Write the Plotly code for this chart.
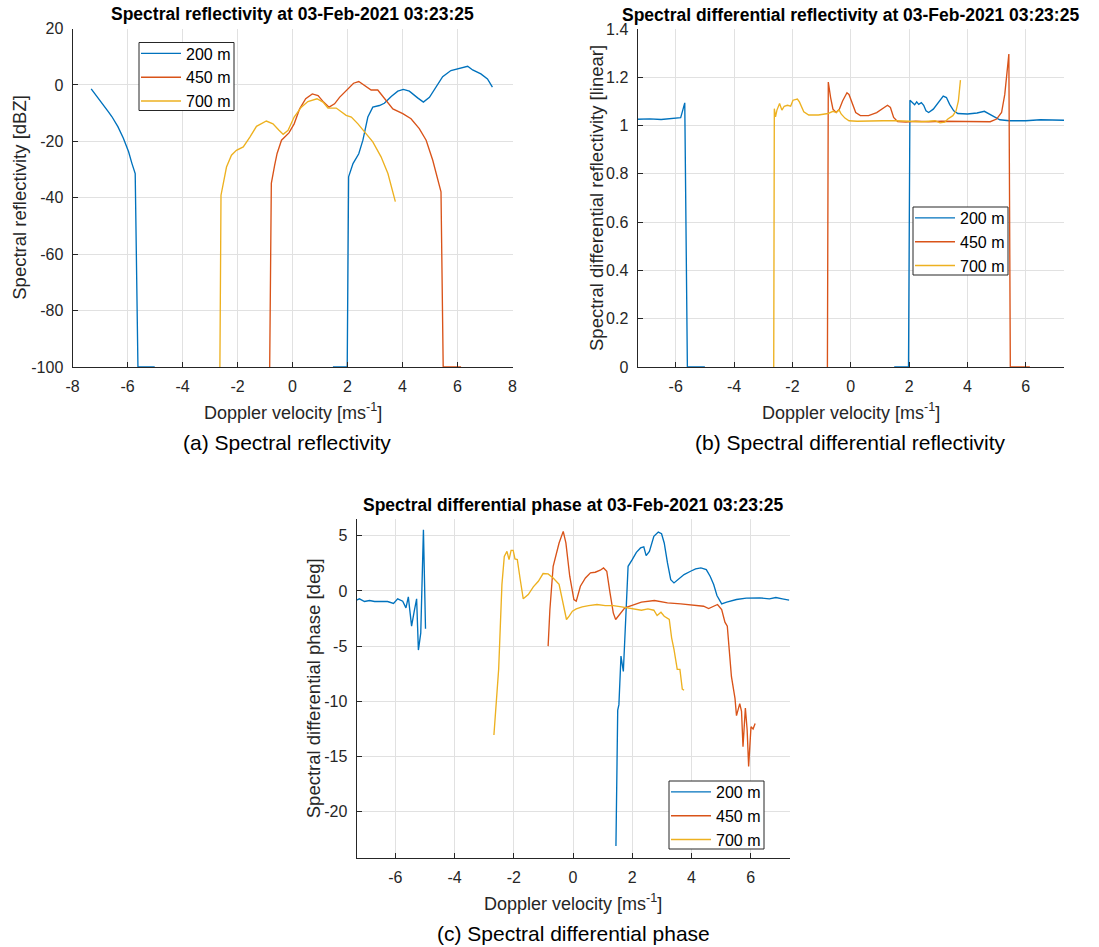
import plotly.graph_objects as go

# ---------------- data ----------------
ranges = ["200 m", "450 m", "700 m"]
colors = ["#0072BD", "#D95319", "#EDB120"]

# (a) spectral reflectivity [dBZ]
za_200_v = [-7.32, -7.12, -6.88, -6.70, -6.57, -6.35, -6.15, -5.96, -5.84, -5.72, -5.62, -5.30, -5.01, None,
            1.47, 1.75, 1.99, 2.04, 2.20, 2.41, 2.56, 2.74, 2.92, 3.16, 3.34, 3.59, 3.83, 4.03, 4.25, 4.55,
            4.76, 4.98, 5.22, 5.46, 5.76, 6.00, 6.19, 6.37, 6.55, 6.85, 7.09, 7.27]
za_200 = [-1.4, -4.1, -7.5, -9.5, -11.2, -14.8, -18.9, -23.7, -27.8, -31.4, -100, -100, -100, None,
          -100, -100, -100, -32.6, -27.9, -24.4, -19.6, -11.4, -7.9, -7.3, -6.5, -4.1, -2.2, -1.6, -2.2, -4.6,
          -6.1, -4.4, -0.8, 2.9, 5.1, 5.6, 6.2, 6.6, 5.3, 3.9, 2.1, -0.8]
za_450_v = [-0.83, -0.77, -0.65, -0.56, -0.40, -0.13, 0.06, 0.26, 0.48, 0.72, 0.93, 1.13, 1.33, 1.53, 1.71,
            2.01, 2.22, 2.41, 2.62, 2.86, 3.10, 3.34, 3.65, 4.01, 4.31, 4.61, 4.86, 5.10, 5.28, 5.40, 5.48,
            5.80, 6.13]
za_450 = [-100, -34.9, -28.5, -24.3, -19.6, -17.0, -13.8, -8.5, -4.9, -3.2, -3.8, -6.1, -7.9, -6.7, -4.4,
          -1.4, 0.6, 1.2, -0.2, -1.8, -1.8, -4.9, -8.5, -10.2, -12.0, -15.5, -19.6, -26.7, -33.8, -37.9, -100,
          -100, -100]
za_700_v = [-2.64, -2.60, -2.40, -2.22, -2.04, -1.79, -1.55, -1.31, -0.95, -0.71, -0.50, -0.34, -0.16, 0.06,
            0.32, 0.56, 0.89, 1.11, 1.29, 1.59, 1.95, 2.14, 2.38, 2.68, 2.92, 3.22, 3.47, 3.74]
za_700 = [-100, -39.1, -29.1, -24.9, -23.2, -22.0, -18.5, -14.7, -12.8, -13.8, -16.0, -17.5, -16.1, -11.4,
          -7.9, -5.9, -4.9, -6.1, -8.2, -8.2, -10.8, -11.4, -13.8, -17.3, -20.2, -25.5, -31.4, -41.4]

# (b) spectral differential reflectivity [linear]
zb_200_v = [-7.31, -6.89, -6.50, -6.11, -5.94, -5.83, -5.76, -5.69, -5.60, -5.30, -5.00, None,
            1.49, 1.75, 1.98, 2.03, 2.11, 2.19, 2.26, 2.33, 2.42, 2.50, 2.58, 2.67, 2.83, 3.00, 3.17, 3.28,
            3.39, 3.53, 3.67, 4.00, 4.33, 4.58, 4.72, 4.89, 5.11, 5.44, 6.00, 6.50, 7.00, 7.31]
zb_200 = [1.026, 1.028, 1.025, 1.028, 1.032, 1.033, 1.063, 1.094, 0, 0, 0, None,
          0, 0, 0, 1.105, 1.095, 1.086, 1.098, 1.088, 1.095, 1.084, 1.061, 1.054, 1.068, 1.095, 1.122, 1.116,
          1.088, 1.061, 1.050, 1.048, 1.052, 1.059, 1.050, 1.037, 1.024, 1.020, 1.020, 1.024, 1.022, 1.022]
zb_450_v = [-0.80, -0.77, -0.69, -0.61, -0.50, -0.39, -0.28, -0.13, -0.06, 0.06, 0.17, 0.33, 0.61, 0.89,
            1.11, 1.26, 1.36, 1.47, 1.61, 1.89, 2.22, 2.67, 3.11, 3.56, 4.00, 4.44, 4.78, 5.00, 5.17, 5.28,
            5.36, 5.42, 5.47, 5.80, 6.14]
zb_450 = [0, 1.180, 1.116, 1.068, 1.054, 1.068, 1.102, 1.136, 1.129, 1.088, 1.054, 1.041, 1.041, 1.054,
          1.071, 1.084, 1.075, 1.034, 1.016, 1.014, 1.018, 1.016, 1.018, 1.018, 1.016, 1.016, 1.016, 1.027,
          1.054, 1.129, 1.211, 1.296, 0, 0, 0]
zb_700_v = [-2.64, -2.62, -2.58, -2.53, -2.44, -2.36, -2.28, -2.17, -2.06, -1.98, -1.83, -1.76, -1.61,
            -1.44, -1.11, -0.78, -0.61, -0.50, -0.40, -0.33, -0.20, -0.06, 0.22, 0.67, 1.11, 1.56, 2.00,
            2.44, 2.89, 3.06, 3.22, 3.33, 3.50, 3.61, 3.69, 3.76]
zb_700 = [0, 1.070, 1.036, 1.064, 1.091, 1.064, 1.080, 1.084, 1.080, 1.105, 1.110, 1.098, 1.057, 1.044,
          1.044, 1.050, 1.059, 1.054, 1.065, 1.048, 1.031, 1.020, 1.018, 1.020, 1.020, 1.020, 1.018, 1.016,
          1.020, 1.011, 1.014, 1.027, 1.041, 1.061, 1.102, 1.188]

# (c) spectral differential phase [deg]
pc_200_v = [-7.31, -7.21, -7.04, -6.87, -6.70, -6.48, -6.26, -6.06, -5.92, -5.75, -5.64, -5.56, -5.45,
            -5.36, -5.28, -5.22, -5.14, -5.05, -4.98, None,
            1.45, 1.51, 1.55, 1.62, 1.70, 1.77, 1.86, 2.00, 2.14, 2.28, 2.39, 2.47, 2.58, 2.73, 2.88, 2.99,
            3.08, 3.19, 3.30, 3.41, 3.55, 3.75, 3.97, 4.14, 4.32, 4.50, 4.63, 4.75, 4.86, 5.02, 5.19, 5.52,
            5.85, 6.30, 6.63, 6.85, 7.07, 7.30]
pc_200 = [-0.84, -0.72, -0.96, -0.87, -0.96, -0.93, -0.96, -1.14, -0.72, -0.93, -1.54, -0.54, -3.19,
          -1.84, -0.72, -5.36, -3.80, 5.54, -3.43, None,
          -23.1, -10.8, -10.3, -5.9, -7.3, -3.49, 2.23, 2.83, 3.49, 3.89, 3.98, 3.19, 3.58, 4.94, 5.33, 5.18,
          4.34, 2.53, 1.02, 0.72, 1.02, 1.48, 1.78, 1.99, 2.08, 1.93, 1.33, 0.57, -0.42, -1.17, -1.02, -0.78,
          -0.66, -0.63, -0.72, -0.60, -0.72, -0.84]
pc_450_v = [-0.84, -0.78, -0.67, -0.58, -0.47, -0.33, -0.24, -0.11, 0.03, 0.11, 0.25, 0.42, 0.59, 0.75,
            0.92, 1.03, 1.14, 1.25, 1.36, 1.44, 1.59, 1.75, 1.97, 2.31, 2.75, 3.19, 3.64, 4.08, 4.41, 4.58,
            4.75, 4.88, 5.02, 5.13, 5.21, 5.35, 5.47, 5.52, 5.63, 5.69, 5.74, 5.82, 5.88, 5.93, 6.01, 6.08,
            6.15]
pc_450 = [-5.0, -1.69, 2.23, 3.13, 4.34, 5.39, 4.34, 1.33, -0.78, -0.93, 0.42, 1.17, 1.63, 1.69, 1.87,
          2.08, 1.78, -0.18, -1.99, -2.59, -2.05, -1.54, -1.33, -1.02, -0.87, -1.08, -1.17, -1.30, -1.39,
          -1.60, -1.39, -1.23, -1.69, -2.83, -3.19, -7.77, -9.73, -11.3, -10.2, -10.9, -14.1, -10.6, -12.6,
          -15.9, -12.3, -12.5, -12.0]
pc_700_v = [-2.67, -2.51, -2.40, -2.32, -2.23, -2.16, -2.09, -2.02, -1.96, -1.88, -1.79, -1.68, -1.51,
            -1.34, -1.17, -1.01, -0.84, -0.67, -0.47, -0.33, -0.22, -0.13, -0.02, 0.11, 0.31, 0.53, 0.81,
            1.09, 1.36, 1.64, 1.86, 2.08, 2.31, 2.53, 2.73, 2.84, 2.97, 3.08, 3.25, 3.33, 3.41, 3.52, 3.61,
            3.69, 3.75]
pc_700 = [-13.05, -7.1, 0.57, 3.13, 3.58, 2.83, 3.67, 3.67, 2.89, 2.83, 1.17, -0.72, -0.33, 0.36, 0.87,
          1.57, 1.54, 1.17, 0.6, -1.39, -2.59, -2.29, -1.84, -1.63, -1.45, -1.33, -1.23, -1.33, -1.33, -1.45,
          -1.54, -1.63, -1.75, -1.63, -1.75, -2.23, -1.93, -2.29, -2.59, -4.25, -5.3, -7.1, -7.1, -8.9, -9.0]

# tick labels
xa_ticks = [-8, -6, -4, -2, 0, 2, 4, 6, 8]
xbc_ticks = [-6, -4, -2, 0, 2, 4, 6]
ya_ticks = [-100, -80, -60, -40, -20, 0, 20]
yb_ticks = [0, 0.2, 0.4, 0.6, 0.8, 1.0, 1.2, 1.4]
yb_text = ["0", "0.2", "0.4", "0.6", "0.8", "1", "1.2", "1.4"]
yc_ticks = [-20, -15, -10, -5, 0, 5]

titles = ["Spectral reflectivity at 03-Feb-2021 03:23:25",
          "Spectral differential reflectivity at 03-Feb-2021 03:23:25",
          "Spectral differential phase at 03-Feb-2021 03:23:25"]
ylabels = ["Spectral reflectivity [dBZ]", "Spectral differential reflectivity [linear]",
           "Spectral differential phase [deg]"]
captions = ["(a) Spectral reflectivity", "(b) Spectral differential reflectivity",
            "(c) Spectral differential phase"]
xlabel = "Doppler velocity [ms<sup>-1</sup>]"

# ---------------- figure ----------------
W, H = 1099, 947
FONT = "Liberation Sans, Arial, sans-serif"
TXT = "#262626"


def px_x(p):
    return p / W


def px_y(p):
    return 1 - p / H


fig = go.Figure()

panels = [
    ("x", "y", "legend", [(za_200_v, za_200), (za_450_v, za_450), (za_700_v, za_700)]),
    ("x2", "y2", "legend2", [(zb_200_v, zb_200), (zb_450_v, zb_450), (zb_700_v, zb_700)]),
    ("x3", "y3", "legend3", [(pc_200_v, pc_200), (pc_450_v, pc_450), (pc_700_v, pc_700)]),
]
for xa, ya, lg, series in panels:
    for (vx, vy), name, col in zip(series, ranges, colors):
        fig.add_trace(go.Scatter(x=vx, y=vy, mode="lines", name=name, xaxis=xa, yaxis=ya, legend=lg,
                                 line=dict(color=col, width=1.35), connectgaps=False))

# plot-area pixel boxes (left, top, right, bottom)
box_a = (72.5, 28.5, 512.5, 367)
box_b = (637.5, 29, 1064, 367)
box_c = (356.5, 519, 789.5, 857.5)


def axis_common():
    return dict(showline=True, linecolor=TXT, linewidth=1, mirror=False, ticks="inside", ticklen=5,
                tickwidth=1, tickcolor=TXT, showgrid=True, gridcolor="#E1E1E1", gridwidth=1,
                zeroline=False, tickfont=dict(family=FONT, size=16, color=TXT), ticklabelstandoff=5)


fig.update_layout(
    xaxis=dict(domain=[px_x(box_a[0]), px_x(box_a[2])], range=[-8, 8], anchor="y",
               tickvals=xa_ticks, ticktext=[str(v) for v in xa_ticks], **axis_common()),
    yaxis=dict(domain=[px_y(box_a[3]), px_y(box_a[1])], range=[-100, 20], anchor="x",
               tickvals=ya_ticks, ticktext=[str(v) for v in ya_ticks], **axis_common()),
    xaxis2=dict(domain=[px_x(box_b[0]), px_x(box_b[2])], range=[-7.31, 7.31], anchor="y2",
                tickvals=xbc_ticks, ticktext=[str(v) for v in xbc_ticks], **axis_common()),
    yaxis2=dict(domain=[px_y(box_b[3]), px_y(box_b[1])], range=[0, 1.4], anchor="x2",
                tickvals=yb_ticks, ticktext=yb_text, **axis_common()),
    xaxis3=dict(domain=[px_x(box_c[0]), px_x(box_c[2])], range=[-7.31, 7.31], anchor="y3",
                tickvals=xbc_ticks, ticktext=[str(v) for v in xbc_ticks], **axis_common()),
    yaxis3=dict(domain=[px_y(box_c[3]), px_y(box_c[1])], range=[-24.14, 6.51], anchor="x3",
                tickvals=yc_ticks, ticktext=[str(v) for v in yc_ticks], **axis_common()),
)

# legend boxes (left, top, right, bottom) in pixels; legend text drawn by plotly on top
leg_boxes = [(139, 42.5, 234, 110.5), (913, 207, 1008, 275), (669, 781, 764, 849)]
leg_common = dict(bgcolor="rgba(0,0,0,0)", borderwidth=0, xanchor="left", yanchor="top",
                  font=dict(family=FONT, size=16, color="#000000"), itemwidth=40, tracegroupgap=0)
shapes = []
legs = {}
for name, (l, t, r, b) in zip(["legend", "legend2", "legend3"], leg_boxes):
    legs[name] = dict(x=px_x(l - 3), y=px_y(t - 6), **leg_common)
    shapes.append(dict(type="rect", xref="paper", yref="paper", x0=px_x(l), x1=px_x(r),
                       y0=px_y(b), y1=px_y(t), fillcolor="white", line=dict(color=TXT, width=1),
                       layer="above"))
fig.update_layout(**legs)

ann = []


def add_text(text, x, y, size, color="#000000", angle=0):
    ann.append(dict(text=text, x=px_x(x), y=px_y(y), xref="paper", yref="paper", showarrow=False,
                    xanchor="center", yanchor="middle", textangle=angle,
                    font=dict(family=FONT, size=size, color=color)))


for box, title, ylab, cap, ylx, capdx in [(box_a, titles[0], ylabels[0], captions[0], 20, -6),
                                           (box_b, titles[1], ylabels[1], captions[1], 597, 0),
                                           (box_c, titles[2], ylabels[2], captions[2], 313, 0)]:
    cx = (box[0] + box[2]) / 2
    cy = (box[1] + box[3]) / 2
    add_text("<b>" + title + "</b>", cx, box[1] - 14, 17.5)
    add_text(ylab, ylx, cy, 18.5, TXT, -90)
    add_text(xlabel, cx, box[3] + 45, 18, TXT)
    add_text(cap, cx + capdx, box[3] + 76, 21)

fig.update_layout(annotations=ann, shapes=shapes, width=W, height=H,
                  margin=dict(l=0, r=0, t=0, b=0, autoexpand=False),
                  paper_bgcolor="white", plot_bgcolor="white", showlegend=True)

fig.write_html("out.html")
